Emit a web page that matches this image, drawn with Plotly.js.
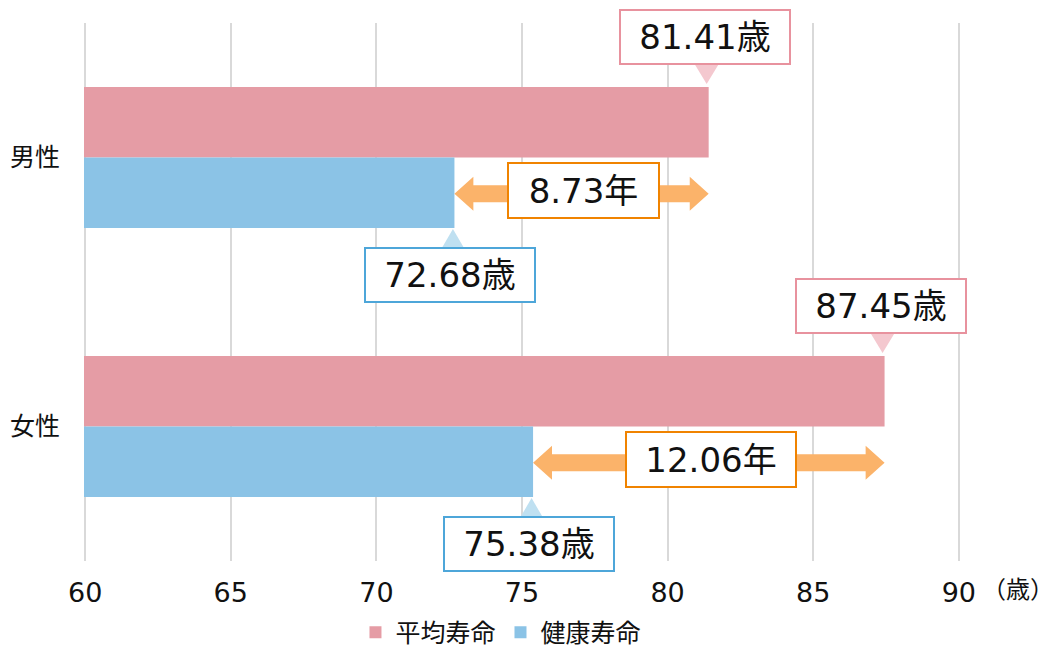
<!DOCTYPE html>
<html>
<head>
<meta charset="utf-8">
<script src="https://cdn.plot.ly/plotly-3.0.1.min.js"></script>
<style>
  html, body { margin: 0; padding: 0; background: #fff; }
  #chart { width: 1062px; height: 667px; }
</style>
</head>
<body>
<div id="chart"></div>
<script>
// ---- data ----
const categories = ['男性', '女性'];
const seriesNames = ['平均寿命', '健康寿命'];
const avgLife = [81.41, 87.45];
const healthyLife = [72.68, 75.38];
const gapYears = [8.73, 12.06];
const xTicks = [60, 65, 70, 75, 80, 85, 90];
const xUnit = '（歳）';

// ---- styles ----
const PINK = '#e59ca5';
const BLUE = '#8bc3e6';
const PINK_BORDER = '#e8929e';
const BLUE_BORDER = '#4da6d9';
const PINK_TRI = '#f4c8cf';
const BLUE_TRI = '#bfe0f1';
const ORANGE = '#fbb36a';
const ORANGE_BORDER = '#f08300';
const TEXT = '#111111';
const NUMFONT = 'DejaVu Sans, "Noto Sans CJK JP", sans-serif';
const CJKFONT = '"Noto Sans CJK JP", sans-serif';
const BARGAP = 0.475;
const HALF = (1 - BARGAP) / 2; // width of one bar in category units

const traces = [
  { type: 'bar', orientation: 'h', name: seriesNames[0], y: categories, x: avgLife,
    marker: { color: PINK }, hoverinfo: 'skip' },
  { type: 'bar', orientation: 'h', name: seriesNames[1], y: categories, x: healthyLife,
    marker: { color: BLUE }, hoverinfo: 'skip' }
];

const annotations = [];
const shapes = [];
const labelFont = { family: NUMFONT, size: 34, color: TEXT };

categories.forEach((c, i) => {
  const pinkTop = i - HALF;
  const blueMid = i + HALF / 2;
  const blueBottom = i + HALF;

  // 平均寿命 label
  annotations.push({
    x: avgLife[i], y: pinkTop, xref: 'x', yref: 'y',
    text: avgLife[i].toFixed(2) + '歳', showarrow: false,
    xanchor: 'center', yanchor: 'bottom', xshift: -4, yshift: 22,
    font: labelFont, bgcolor: '#ffffff', bordercolor: PINK_BORDER,
    borderwidth: 2, borderpad: 1, width: 166, height: 50
  });
  shapes.push({
    type: 'path', xref: 'x', yref: 'y', xsizemode: 'pixel', ysizemode: 'pixel',
    xanchor: avgLife[i], yanchor: pinkTop,
    path: 'M-13.5,22 L9.5,22 L-2,3 Z', fillcolor: PINK_TRI, line: { width: 0 }
  });

  // 健康寿命 label
  annotations.push({
    x: healthyLife[i], y: blueBottom, xref: 'x', yref: 'y',
    text: healthyLife[i].toFixed(2) + '歳', showarrow: false,
    xanchor: 'center', yanchor: 'top', xshift: -4, yshift: -19,
    font: labelFont, bgcolor: '#ffffff', bordercolor: BLUE_BORDER,
    borderwidth: 2, borderpad: 1, width: 166, height: 50
  });
  shapes.push({
    type: 'path', xref: 'x', yref: 'y', xsizemode: 'pixel', ysizemode: 'pixel',
    xanchor: healthyLife[i], yanchor: blueBottom,
    path: 'M-12,-19 L9,-19 L-1.5,-1 Z', fillcolor: BLUE_TRI, line: { width: 0 }
  });

  // double arrow between the two bar ends
  const a = healthyLife[i], b = avgLife[i], h = 0.65;
  shapes.push({
    type: 'path', xref: 'x', yref: 'y', ysizemode: 'pixel', yanchor: blueMid,
    path: `M${a},-1 L${a + h},16 L${a + h},7.5 L${b - h},7.5 L${b - h},16 L${b},-1 ` +
          `L${b - h},-18 L${b - h},-9.5 L${a + h},-9.5 L${a + h},-18 Z`,
    fillcolor: ORANGE, line: { width: 0 }
  });
  const gapText = gapYears[i].toFixed(2) + '年';
  annotations.push({
    x: (a + b) / 2, y: blueMid, xref: 'x', yref: 'y',
    text: gapText, showarrow: false, xanchor: 'center', yanchor: 'middle',
    xshift: 2, yshift: 2,
    font: labelFont, bgcolor: '#ffffff', bordercolor: ORANGE_BORDER,
    borderwidth: 2, borderpad: 1, width: gapText.length > 5 ? 166 : 147, height: 51
  });
});

// unit label after the x ticks
annotations.push({
  x: 1.066, y: -0.05, xref: 'paper', yref: 'paper', text: xUnit,
  showarrow: false, xanchor: 'center', yanchor: 'middle',
  font: { family: CJKFONT, size: 24, color: TEXT }
});

const layout = {
  width: 1062, height: 667,
  margin: { l: 84, r: 102, t: 23, b: 101, pad: 0 },
  paper_bgcolor: '#ffffff', plot_bgcolor: '#ffffff',
  barmode: 'group', bargap: BARGAP, bargroupgap: 0,
  hovermode: false,
  xaxis: {
    range: [59.96, 90.04], tickvals: xTicks, ticktext: xTicks.map(String),
    showgrid: true, gridcolor: '#d9d9d9', gridwidth: 2,
    zeroline: false, showline: false,
    ticks: 'outside', ticklen: 8, tickcolor: 'rgba(0,0,0,0)',
    tickfont: { family: NUMFONT, size: 27, color: TEXT }
  },
  yaxis: {
    type: 'category', autorange: 'reversed',
    showgrid: false, zeroline: false, showline: false,
    ticks: 'outside', ticklen: 18, tickcolor: 'rgba(0,0,0,0)',
    tickfont: { family: CJKFONT, size: 25, color: TEXT }
  },
  showlegend: true,
  legend: {
    orientation: 'h', traceorder: 'normal',
    x: 0.476, xanchor: 'center', y: -0.133, yanchor: 'middle',
    font: { family: CJKFONT, size: 25, color: TEXT },
    bgcolor: 'rgba(0,0,0,0)', itemclick: false, itemdoubleclick: false
  },
  annotations: annotations,
  shapes: shapes
};

Plotly.newPlot('chart', traces, layout, { displayModeBar: false, staticPlot: true });
</script>
</body>
</html>
